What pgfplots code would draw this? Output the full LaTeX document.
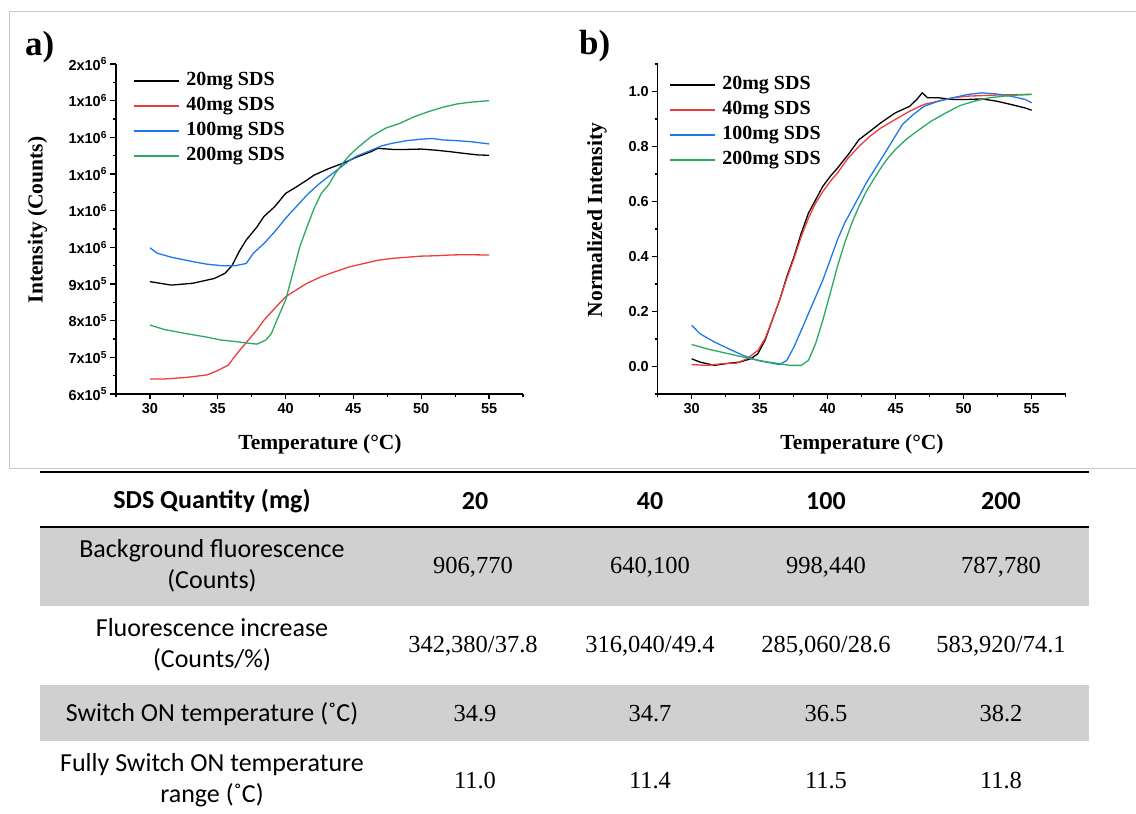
\documentclass[border=0pt]{standalone}
\usepackage{fontspec}
\setmainfont{Liberation Serif}
\newfontfamily\arialfont{Liberation Sans}
\newfontfamily\calfont{Carlito}
\usepackage{pgfplots}
\pgfplotsset{compat=1.18}
\definecolor{cred}{RGB}{238,60,60}
\definecolor{cblue}{RGB}{30,120,235}
\definecolor{cgreen}{RGB}{40,170,95}
\definecolor{tgray}{RGB}{208,208,208}
\definecolor{framecol}{RGB}{200,200,200}
\pgfplotsset{
  myaxis/.style={
    anchor=south west, scale only axis, height=330pt,
    xmin=27.5, xmax=57.5,
    axis x line*=bottom, axis y line*=left,
    xtick={30,35,...,55}, minor xtick={27.5,32.5,...,57.5},
    tick align=outside, major tick length=5.5pt, minor tick length=3pt,
    tick style={black, line width=1.2pt},
    axis line style={black, line width=1.5pt},
    ticklabel style={font=\arialfont\bfseries\fontsize{14.5}{16}\selectfont},
    /pgf/number format/assume math mode=true,
    clip=false,
    every axis plot/.append style={line width=1.3pt},
    legend style={draw=none, fill=none, at={(axis description cs:0,1)}, anchor=north west,
      inner sep=0pt, outer sep=0pt, row sep=0pt, column sep=5pt,
      nodes={inner sep=2pt, text height=15pt, text depth=6pt, anchor=west},
      font=\bfseries\fontsize{20}{24}\selectfont},
    legend cell align=left,
    legend image code/.code={\draw[##1] (0pt,0pt) -- (45pt,0pt);},
  }
}
\begin{document}
\begin{tikzpicture}
% frame around the plots
\draw[framecol, line width=1pt] (1136pt,802pt) -- (9pt,802pt) -- (9pt,345pt) -- (1136pt,345pt);

% ---------------- plot a ----------------
\begin{axis}[myaxis, at={(116pt,420pt)}, width=407pt,
  ymin=600000, ymax=1500000, scaled y ticks=false,
  ytick={600000,700000,800000,900000,1000000,1100000,1200000,1300000,1400000,1500000},
  yticklabels={6x10\textsuperscript{5},7x10\textsuperscript{5},8x10\textsuperscript{5},9x10\textsuperscript{5},1x10\textsuperscript{6},1x10\textsuperscript{6},1x10\textsuperscript{6},1x10\textsuperscript{6},1x10\textsuperscript{6},2x10\textsuperscript{6}},
  minor ytick={650000,750000,850000,950000,1050000,1150000,1250000,1350000,1450000},
  legend style={xshift=17pt, yshift=-4.5pt},
]
\addplot[black] coordinates {(30,906400) (31.58,897000) (33.16,902000) (34.74,915000) (35.53,929000) (36.05,950000) (36.6,990000) (37.1,1020000) (37.9,1056000) (38.4,1084000) (39.2,1111000) (40,1147000) (40.8,1165000) (41.6,1184000) (42.1,1197000) (43.2,1215000) (44.2,1229000) (45.3,1247000) (46.3,1261000) (46.8,1270000) (47.9,1267000) (48.9,1267000) (50,1268000) (51.05,1265000) (52.1,1261000) (53.2,1256000) (54.2,1252000) (55,1251000)};
\addlegendentry{20mg SDS}
\addplot[cred] coordinates {(30,641000) (31.05,641000) (32.63,645000) (34.21,652000) (35,664000) (35.79,679000) (36.32,706000) (36.84,729000) (37.37,752000) (37.89,775000) (38.42,802000) (39.21,834000) (40,865000) (40.79,884000) (41.58,902000) (42.63,920000) (43.68,934000) (44.74,947000) (45.79,956000) (46.84,965000) (47.89,970000) (48.95,973000) (50,976000) (51.05,977000) (52.1,979000) (53.16,980000) (55,979000)};
\addlegendentry{40mg SDS}
\addplot[cblue] coordinates {(30,999000) (30.53,984000) (31.58,973000) (33.16,961000) (34.21,954000) (35.26,950000) (36.32,950000) (37.1,956000) (37.63,984000) (38.42,1011000) (39.21,1043000) (40,1079000) (40.79,1111000) (41.58,1143000) (42.37,1170000) (43.16,1193000) (43.95,1215000) (44.74,1238000) (45.26,1249000) (46.32,1265000) (47.1,1277000) (47.89,1284000) (48.95,1291000) (50,1295000) (50.79,1297000) (51.58,1293000) (52.63,1291000) (53.68,1288000) (55,1282000)};
\addlegendentry{100mg SDS}
\addplot[cgreen] coordinates {(30,788000) (31.05,776000) (32.63,765000) (34.21,755000) (35.26,747000) (36.32,743000) (37.37,738000) (37.89,736000) (38.55,747000) (38.95,765000) (39.47,811000) (40,856000) (40.53,929000) (41.05,1002000) (41.58,1056000) (42.1,1106000) (42.63,1147000) (43.16,1170000) (43.68,1202000) (44.2,1229000) (44.74,1252000) (45.26,1270000) (46.3,1302000) (47.37,1325000) (48.42,1338000) (49.47,1356000) (50.53,1370000) (51.58,1382000) (52.63,1391000) (53.68,1396000) (55,1400000)};
\addlegendentry{200mg SDS}
\end{axis}

% ---------------- plot b ----------------
\begin{axis}[myaxis, at={(657.7pt,420pt)}, width=408pt,
  ymin=-0.1, ymax=1.1,
  ytick={0,0.2,0.4,0.6,0.8,1.0},
  minor ytick={-0.1,0.1,0.3,0.5,0.7,0.9,1.1},
  yticklabel style={/pgf/number format/.cd, fixed, fixed zerofill, precision=1},
  legend style={xshift=11.3pt, yshift=-8.6pt},
]
\addplot[black] coordinates {(30,0.028) (30.61,0.016) (31.67,0.004) (32.74,0.012) (33.53,0.016) (34.33,0.028) (34.86,0.046) (35.39,0.095) (35.92,0.168) (36.46,0.241) (36.99,0.326) (37.52,0.399) (38.05,0.484) (38.58,0.557) (39.11,0.606) (39.64,0.655) (40.18,0.691) (40.71,0.721) (41.5,0.770) (42.3,0.825) (43.1,0.855) (43.9,0.886) (44.96,0.922) (46.02,0.946) (46.55,0.971) (46.95,0.995) (47.35,0.977) (48.15,0.977) (49.2,0.971) (50.27,0.971) (51.33,0.973) (52.4,0.965) (53.46,0.953) (54.52,0.940) (55,0.932)};
\addlegendentry{20mg SDS}
\addplot[cred] coordinates {(30,0.007) (31.14,0.004) (32.2,0.010) (33.27,0.012) (34.06,0.028) (34.86,0.058) (35.39,0.101) (35.92,0.168) (36.46,0.241) (36.99,0.32) (37.52,0.393) (38.05,0.472) (38.58,0.539) (39.11,0.594) (39.64,0.636) (40.18,0.673) (40.71,0.703) (41.5,0.758) (42.3,0.8) (43.1,0.837) (43.9,0.867) (44.96,0.898) (46.02,0.928) (47.08,0.953) (48.15,0.965) (49.2,0.977) (50.27,0.983) (51.33,0.985) (52.4,0.987) (53.46,0.988) (55,0.99)};
\addlegendentry{40mg SDS}
\addplot[cblue] coordinates {(30,0.15) (30.61,0.119) (31.67,0.089) (32.74,0.064) (33.8,0.04) (34.86,0.022) (35.92,0.012) (36.46,0.007) (36.99,0.022) (37.52,0.071) (38.05,0.131) (38.58,0.192) (39.11,0.253) (39.64,0.314) (40.18,0.387) (40.71,0.46) (41.24,0.521) (41.77,0.569) (42.3,0.618) (42.83,0.667) (43.36,0.709) (43.9,0.752) (44.43,0.794) (44.96,0.837) (45.49,0.88) (46.29,0.916) (47.08,0.946) (48.15,0.965) (49.2,0.977) (50.27,0.989) (51.33,0.995) (52.4,0.991) (53.46,0.983) (54.52,0.971) (55,0.959)};
\addlegendentry{100mg SDS}
\addplot[cgreen] coordinates {(30,0.08) (31.14,0.064) (32.2,0.052) (33.27,0.04) (34.33,0.028) (35.39,0.018) (36.46,0.01) (37.25,0.004) (38.05,0.004) (38.58,0.022) (39.11,0.083) (39.64,0.168) (40.18,0.265) (40.71,0.363) (41.24,0.448) (41.77,0.521) (42.3,0.582) (42.83,0.636) (43.36,0.679) (43.9,0.721) (44.43,0.758) (44.96,0.788) (45.75,0.825) (46.55,0.855) (47.61,0.892) (48.68,0.922) (49.74,0.949) (50.8,0.965) (51.86,0.977) (52.93,0.983) (53.99,0.987) (55,0.989)};
\addlegendentry{200mg SDS}
\end{axis}

% axis labels and panel letters
\node[font=\bfseries\fontsize{21.5}{26}\selectfont, anchor=base] at (320pt,364pt) {Temperature (°C)};
\node[font=\bfseries\fontsize{21.5}{26}\selectfont, anchor=base] at (862pt,364pt) {Temperature (°C)};
\node[font=\bfseries\fontsize{21.5}{26}\selectfont, rotate=90] at (37.5pt,594pt) {Intensity (Counts)};
\node[font=\bfseries\fontsize{21.5}{26}\selectfont, rotate=90] at (597pt,594pt) {Normalized Intensity};
\node[font=\bfseries\fontsize{35}{40}\selectfont, anchor=base west, inner sep=0pt] at (25pt,758pt) {a)};
\node[font=\bfseries\fontsize{35}{40}\selectfont, anchor=base west, inner sep=0pt] at (579pt,759pt) {b)};

% ---------------- table ----------------
\fill[tgray] (40pt,208pt) rectangle (1089pt,286pt);
\fill[tgray] (40pt,73pt) rectangle (1089pt,129pt);
\draw[line width=2pt] (40pt,342pt) -- (1089pt,342pt);
\draw[line width=2pt] (40pt,287pt) -- (1089pt,287pt);
\begin{scope}[every node/.style={font=\calfont\fontsize{26}{31.5}\selectfont, align=center}]
\node[font=\calfont\bfseries\fontsize{26}{31}\selectfont] at (212pt,313pt) {SDS Quantity (mg)};
\node[font=\calfont\bfseries\fontsize{26}{31}\selectfont] at (475pt,313pt) {20};
\node[font=\calfont\bfseries\fontsize{26}{31}\selectfont] at (650pt,313pt) {40};
\node[font=\calfont\bfseries\fontsize{26}{31}\selectfont] at (826pt,313pt) {100};
\node[font=\calfont\bfseries\fontsize{26}{31}\selectfont] at (1001pt,313pt) {200};
\node at (212pt,248pt) {Background fluorescence\\(Counts)};
\node at (212pt,169pt) {Fluorescence increase\\(Counts/\%)};
\node at (212pt,100pt) {Switch ON temperature (˚C)};
\node at (212pt,34pt) {Fully Switch ON temperature\\range (˚C)};
\end{scope}
\begin{scope}[every node/.style={font=\fontsize{24.5}{30}\selectfont}]
\node at (473pt,247pt) {906,770};
\node at (650pt,247pt) {640,100};
\node at (826pt,247pt) {998,440};
\node at (1001pt,247pt) {787,780};
\node at (473pt,168pt) {342,380/37.8};
\node at (650pt,168pt) {316,040/49.4};
\node at (826pt,168pt) {285,060/28.6};
\node at (1001pt,168pt) {583,920/74.1};
\node at (475pt,100pt) {34.9};
\node at (650pt,100pt) {34.7};
\node at (826pt,100pt) {36.5};
\node at (1001pt,100pt) {38.2};
\node at (475pt,33pt) {11.0};
\node at (650pt,33pt) {11.4};
\node at (826pt,33pt) {11.5};
\node at (1001pt,33pt) {11.8};
\end{scope}
\pgfresetboundingbox
\useasboundingbox (0pt,0pt) rectangle (1136pt,814pt);
\end{tikzpicture}
\end{document}
